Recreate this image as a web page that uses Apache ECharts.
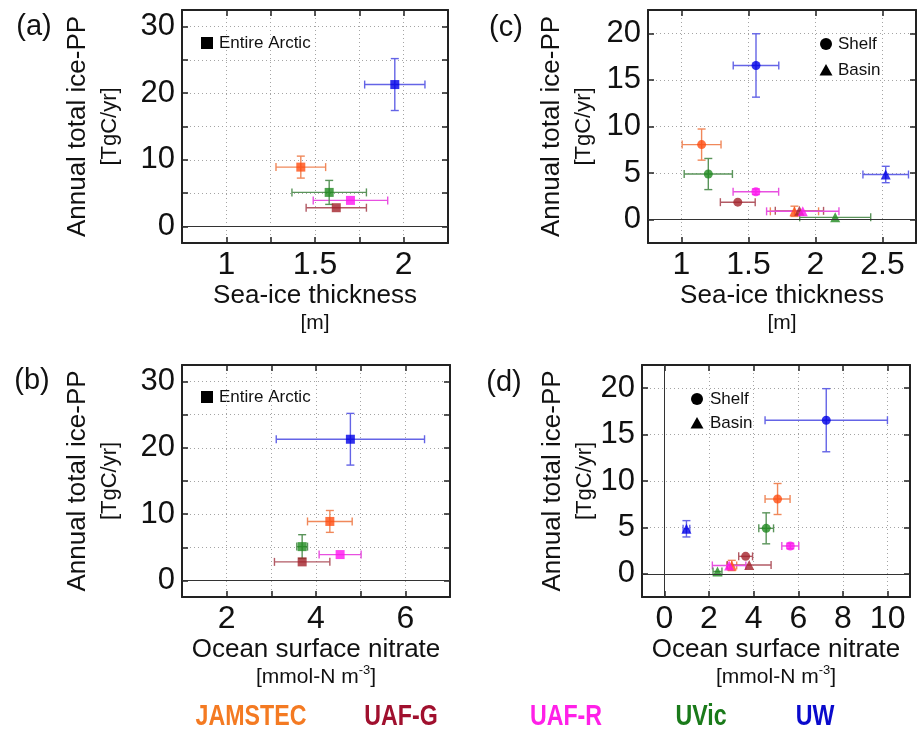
<!DOCTYPE html>
<html><head><meta charset="utf-8">
<script src="https://cdn.jsdelivr.net/npm/echarts@6/dist/echarts.min.js"></script>
<style>html,body{margin:0;padding:0;background:#fff}#c{width:918px;height:735px}</style>
</head><body><div id="c"></div>
<script>
// ---------------- DATA ----------------
const models = ['JAMSTEC', 'UAF-G', 'UAF-R', 'UVic', 'UW'];
const markerColors = ['#FF4E12', '#A3222A', '#FF14F0', '#1F8A1F', '#0000E6'];
const errColors = ['#F0885A', '#B25A64', '#E850E0', '#5A945A', '#6464E6'];
const legendColors = ['#F47A22', '#A0102E', '#FF20E8', '#1A7A1A', '#0A0ACC'];

// Entire Arctic (panels a, b)
const thickA    = [1.42, 1.62, 1.70, 1.58, 1.95];
const thickAErr = [0.14, 0.17, 0.21, 0.21, 0.17];
const nitA      = [4.31, 3.69, 4.54, 3.69, 4.77];
const nitAErr   = [0.50, 0.62, 0.47, 0.12, 1.66];
const ppA       = [8.9, 2.8, 3.9, 5.1, 21.3];
const ppAErr    = [1.65, 0, 0, 1.8, 3.9];

// Shelf (panels c, d)
const thickS    = [1.15, 1.42, 1.555, 1.20, 1.556];
const thickSErr = [0.145, 0.13, 0.17, 0.18, 0.17];
const nitS      = [5.07, 3.64, 5.64, 4.56, 7.25];
const nitSErr   = [0.56, 0.31, 0.38, 0.33, 2.74];
const ppS       = [8.06, 1.88, 3.0, 4.9, 16.55];
const ppSErr    = [1.67, 0, 0.3, 1.67, 3.4];

// Basin (panels c, d)
const thickB    = [1.843, 1.88, 1.905, 2.147, 2.524];
const thickBErr = [0.18, 0.18, 0.27, 0.265, 0.17];
const nitB      = [3.02, 3.80, 2.90, 2.38, 0.99];
const nitBErr   = [0.22, 0.98, 0.75, 0.20, 0.15];
const ppB       = [0.9, 0.95, 0.9, 0.25, 4.85];
const ppBErr    = [0.55, 0, 0, 0, 0.88];

// Axis ticks / labels
const xTicksA = [1, 1.25, 1.5, 1.75, 2],  xLabelsA = [1, 1.5, 2];
const xTicksB = [2, 3, 4, 5, 6],          xLabelsB = [2, 4, 6];
const xTicksC = [1, 1.5, 2, 2.5],         xLabelsC = [1, 1.5, 2, 2.5];
const xTicksD = [0, 2, 4, 6, 8, 10],      xLabelsD = [0, 2, 4, 6, 8, 10];
const yTicksAB = [0, 5, 10, 15, 20, 25, 30], yLabelsAB = [0, 10, 20, 30];
const yTicksCD = [0, 5, 10, 15, 20],          yLabelsCD = [0, 5, 10, 15, 20];

// ---------------- CHART ----------------
const FF = '"Liberation Sans", Arial, Helvetica, sans-serif';
const FRAME = '#222';

const grids = [
  {left: 182, top: 10, width: 266, height: 233},
  {left: 182, top: 365, width: 268, height: 232},
  {left: 648, top: 10, width: 268, height: 233},
  {left: 642, top: 365, width: 268, height: 232}
];

const ranges = [
  {x: [0.75, 2.25], y: [-2.5, 32.5], xt: xTicksA, xl: xLabelsA, yt: yTicksAB, yl: yLabelsAB, xn: 'thick'},
  {x: [1, 7],       y: [-2.5, 32.5], xt: xTicksB, xl: xLabelsB, yt: yTicksAB, yl: yLabelsAB, xn: 'nit'},
  {x: [0.75, 2.75], y: [-2.5, 22.5], xt: xTicksC, xl: xLabelsC, yt: yTicksCD, yl: yLabelsCD, xn: 'thick'},
  {x: [-1, 11],     y: [-2.5, 22.5], xt: xTicksD, xl: xLabelsD, yt: yTicksCD, yl: yLabelsCD, xn: 'nit'}
];
const yNameGaps = [57, 57, 49, 42];

const xAxes = [], yAxes = [];
const lineStyle = {color: FRAME, width: 2};
const tickStyle = {color: FRAME, width: 1.5};
const gridStyle = {type: [1, 3], color: '#a4a4a4', width: 1};

ranges.forEach((r, i) => {
  const xName = r.xn === 'thick'
    ? '{a|Sea-ice thickness}\n{b|[m]}'
    : '{a|Ocean surface nitrate}\n{b|[mmol-N m}{s|-3}{b|]}';
  xAxes.push({
    type: 'value', gridIndex: i, min: r.x[0], max: r.x[1], position: 'bottom',
    axisLine: {show: true, onZero: false, lineStyle},
    axisTick: {show: true, inside: true, length: 6, customValues: r.xt, lineStyle: tickStyle},
    axisLabel: {show: true, customValues: r.xl, fontSize: 32, margin: 6, color: '#111', fontFamily: FF},
    splitLine: {show: true, lineStyle: gridStyle},
    name: xName, nameLocation: 'middle', nameGap: 38,
    nameTextStyle: {
      color: '#111', fontFamily: FF,
      rich: {
        a: {fontSize: 26, lineHeight: 29, fontFamily: FF, color: '#111'},
        b: {fontSize: 21, lineHeight: 26, fontFamily: FF, color: '#111'},
        s: {fontSize: 13, lineHeight: 14, verticalAlign: 'top', fontFamily: FF, color: '#111'}
      }
    }
  });
  xAxes.push({
    type: 'value', gridIndex: i, min: r.x[0], max: r.x[1], position: 'top',
    axisLine: {show: true, onZero: false, lineStyle},
    axisTick: {show: true, inside: true, length: 6, customValues: r.xt, lineStyle: tickStyle},
    axisLabel: {show: false}, splitLine: {show: false}
  });
  yAxes.push({
    type: 'value', gridIndex: i, min: r.y[0], max: r.y[1], position: 'left',
    axisLine: {show: true, onZero: false, lineStyle},
    axisTick: {show: true, inside: true, length: 6, customValues: r.yt, lineStyle: tickStyle},
    axisLabel: {show: true, customValues: r.yl, fontSize: 31, margin: 7, color: '#111', fontFamily: FF},
    splitLine: {show: true, lineStyle: gridStyle},
    name: '{a|Annual total ice-PP}\n{b|[TgC/yr]}', nameLocation: 'middle', nameGap: yNameGaps[i],
    nameTextStyle: {
      color: '#111', fontFamily: FF,
      rich: {
        a: {fontSize: 26, lineHeight: 33, fontFamily: FF, color: '#111'},
        b: {fontSize: 22, lineHeight: 31, fontFamily: FF, color: '#111'}
      }
    }
  });
  yAxes.push({
    type: 'value', gridIndex: i, min: r.y[0], max: r.y[1], position: 'right',
    axisLine: {show: true, onZero: false, lineStyle},
    axisTick: {show: true, inside: true, length: 6, customValues: r.yt, lineStyle: tickStyle},
    axisLabel: {show: false}, splitLine: {show: false}
  });
});

function errRender(params, api) {
  const x = api.value(0), y = api.value(1), xe = api.value(2), ye = api.value(3), ci = api.value(4);
  const col = errColors[ci];
  const cap = 4;
  const children = [];
  const ln = (x1, y1, x2, y2) => children.push({
    type: 'line', shape: {x1, y1, x2, y2}, style: {stroke: col, lineWidth: 1.4}
  });
  if (xe > 0) {
    const l = api.coord([x - xe, y]), r = api.coord([x + xe, y]);
    ln(l[0], l[1], r[0], r[1]);
    ln(l[0], l[1] - cap, l[0], l[1] + cap);
    ln(r[0], r[1] - cap, r[0], r[1] + cap);
  }
  if (ye > 0) {
    const t = api.coord([x, y + ye]), b = api.coord([x, y - ye]);
    ln(t[0], t[1], b[0], b[1]);
    ln(t[0] - cap, t[1], t[0] + cap, t[1]);
    ln(b[0] - cap, b[1], b[0] + cap, b[1]);
  }
  return {type: 'group', children};
}

const series = [];
function addSet(panel, xs, xes, ys, yes, symbol, extraMark) {
  series.push({
    type: 'custom', xAxisIndex: 2 * panel, yAxisIndex: 2 * panel, z: 2,
    renderItem: errRender, silent: true,
    data: xs.map((x, i) => [x, ys[i], xes[i], yes[i], i])
  });
  const s = {
    type: 'scatter', xAxisIndex: 2 * panel, yAxisIndex: 2 * panel, z: 3,
    symbol, symbolSize: symbol === 'triangle' ? 10 : 9, silent: true,
    data: xs.map((x, i) => ({value: [x, ys[i]], itemStyle: {color: markerColors[i]}}))
  };
  if (extraMark) {
    s.markLine = {
      silent: true, symbol: 'none', label: {show: false}, animation: false,
      lineStyle: {type: 'solid', color: '#333', width: 1},
      data: extraMark
    };
  }
  series.push(s);
}

addSet(0, thickA, thickAErr, ppA, ppAErr, 'rect', [{yAxis: 0}]);
addSet(1, nitA, nitAErr, ppA, ppAErr, 'rect', [{yAxis: 0}]);
addSet(2, thickS, thickSErr, ppS, ppSErr, 'circle', [{yAxis: 0}]);
addSet(2, thickB, thickBErr, ppB, ppBErr, 'triangle', null);
addSet(3, nitS, nitSErr, ppS, ppSErr, 'circle', [{yAxis: 0}, {xAxis: 0}]);
addSet(3, nitB, nitBErr, ppB, ppBErr, 'triangle', null);

// ---------------- GRAPHIC (labels / legends) ----------------
const txt = (text, x, y, size, extra, props) => Object.assign({
  type: 'text', x, y, silent: true,
  style: Object.assign({text, fontSize: size, fontFamily: FF, fill: '#111',
    align: 'left', verticalAlign: 'middle'}, extra || {})
}, props || {});
const tri = (cx, cy) => ({
  type: 'polygon', silent: true,
  shape: {points: [[cx - 6.5, cy + 5.5], [cx + 6.5, cy + 5.5], [cx, cy - 6]]},
  style: {fill: '#000'}
});
const graphic = [
  txt('(a)', 34, 27, 29, {align: 'center'}),
  txt('(b)', 32, 381, 29, {align: 'center'}),
  txt('(c)', 506, 28, 29, {align: 'center'}),
  txt('(d)', 504, 383, 29, {align: 'center'}),
  {type: 'rect', shape: {x: 201, y: 37, width: 12, height: 12}, style: {fill: '#000'}, silent: true},
  txt('Entire Arctic', 219, 43, 17),
  {type: 'rect', shape: {x: 201, y: 391, width: 12, height: 12}, style: {fill: '#000'}, silent: true},
  txt('Entire Arctic', 219, 397, 17),
  {type: 'circle', shape: {cx: 826, cy: 44, r: 6}, style: {fill: '#000'}, silent: true},
  txt('Shelf', 838, 44, 17),
  tri(826, 70),
  txt('Basin', 838, 70, 17),
  {type: 'circle', shape: {cx: 697, cy: 399, r: 6}, style: {fill: '#000'}, silent: true},
  txt('Shelf', 710, 399, 17),
  tri(697, 423),
  txt('Basin', 710, 423, 17)
];
const legendX = [251, 401, 566, 701, 815];
models.forEach((m, i) => {
  graphic.push(txt(m, legendX[i], 717, 29, {
    align: 'center', fontWeight: 'bold', fill: legendColors[i], fontFamily: FF
  }, {scaleX: 0.8}));
});

const chart = echarts.init(document.getElementById('c'), null, {renderer: 'canvas'});
chart.setOption({
  backgroundColor: '#fff',
  animation: false,
  grid: grids.map(g => Object.assign({containLabel: false}, g)),
  xAxis: xAxes,
  yAxis: yAxes,
  series,
  graphic
});
</script>
</body></html>
